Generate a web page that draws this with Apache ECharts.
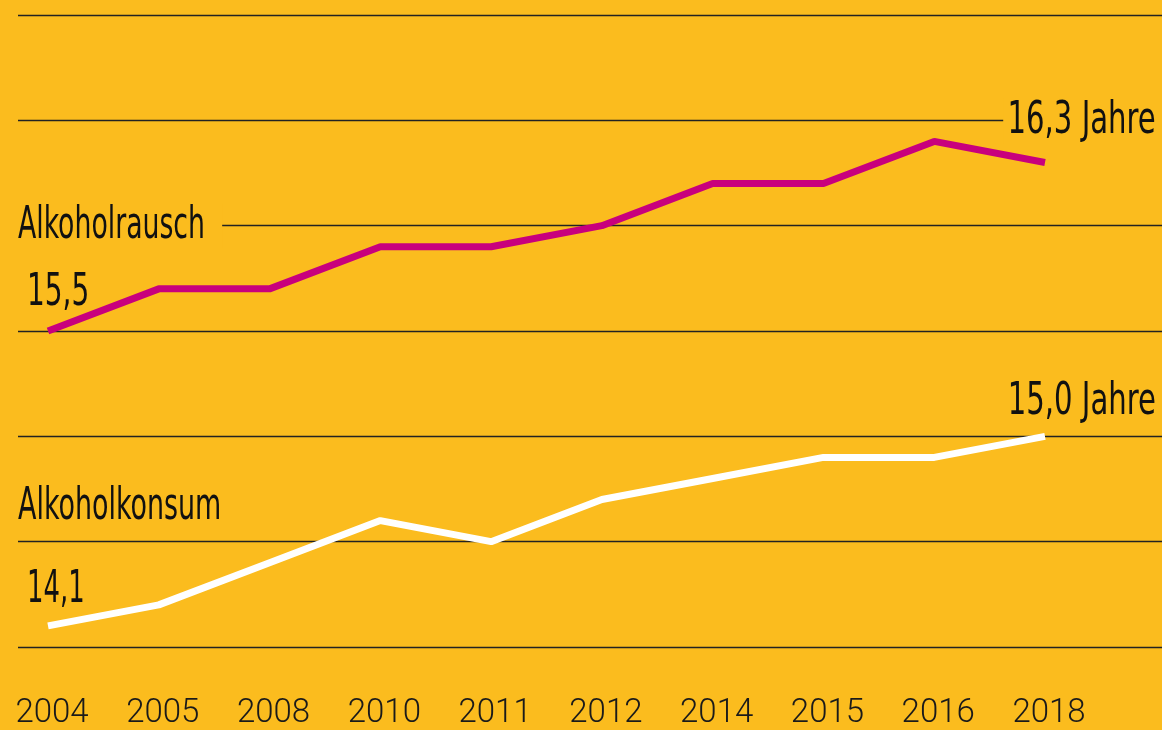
<!DOCTYPE html>
<html>
<head>
<meta charset="utf-8">
<script src="https://cdn.jsdelivr.net/npm/echarts@6/dist/echarts.min.js"></script>
<style>
  html, body { margin: 0; padding: 0; background: #FBBC1E; }
  #chart { width: 1162px; height: 730px; }
</style>
</head>
<body>
<div id="chart"></div>
<script>
const years = ["2004", "2005", "2008", "2010", "2011", "2012", "2014", "2015", "2016", "2018"];
const rausch = [15.5, 15.7, 15.7, 15.9, 15.9, 16.0, 16.2, 16.2, 16.4, 16.3];
const konsum = [14.1, 14.2, 14.4, 14.6, 14.5, 14.7, 14.8, 14.9, 14.9, 15.0];
const yTicks = { min: 14, max: 17, interval: 0.5 };

const bg = "#FBBC1E";
const font = "'DejaVu Sans Condensed', sans-serif";
const fmt = (v) => v.toFixed(1).replace(".", ",");

// text drawn with horizontal squeeze to mimic the condensed headline font
function txt(text, x, y, sx, align, pad) {
  return {
    type: "text",
    x: x,
    y: y,
    scaleX: sx,
    z: 10,
    style: {
      text: text,
      font: "45px " + font,
      fill: "#111",
      align: align || "left",
      verticalAlign: "middle",
      backgroundColor: pad ? bg : null,
      padding: pad || 0,
    },
  };
}

let myChart = echarts.init(document.getElementById("chart"));
let option = {
  backgroundColor: bg,
  animation: false,
  grid: [
    { left: 18, right: 0, top: 15, bottom: 83 },
    { left: 48, right: 117, top: 15, bottom: 83 },
  ],
  xAxis: [
    { gridIndex: 0, type: "value", show: false, min: 0, max: 1 },
    {
      gridIndex: 1,
      type: "category",
      data: years,
      boundaryGap: false,
      axisLine: { show: false },
      axisTick: { show: false },
      axisLabel: {
        margin: 50,
        padding: [0, 0, 0, 8],
        fontFamily: "Roboto, sans-serif",
        fontWeight: 300,
        fontSize: 33,
        color: "#1a1a1a",
      },
    },
  ],
  yAxis: [
    {
      gridIndex: 0,
      type: "value",
      min: yTicks.min,
      max: yTicks.max,
      interval: yTicks.interval,
      axisLine: { show: false },
      axisTick: { show: false },
      axisLabel: { show: false },
      splitLine: { lineStyle: { color: "#222", width: 1.3 } },
    },
    {
      gridIndex: 1,
      type: "value",
      min: yTicks.min,
      max: yTicks.max,
      show: false,
      splitLine: { show: false },
    },
  ],
  series: [
    {
      name: "Alkoholrausch",
      type: "line",
      xAxisIndex: 1,
      yAxisIndex: 1,
      data: rausch,
      symbol: "none",
      lineStyle: { color: "#C8007D", width: 7 },
      z: 5,
    },
    {
      name: "Alkoholkonsum",
      type: "line",
      xAxisIndex: 1,
      yAxisIndex: 1,
      data: konsum,
      symbol: "none",
      lineStyle: { color: "#FFFFFF", width: 7 },
      z: 5,
    },
  ],
  graphic: [
    txt("Alkoholrausch", 18, 226, 0.66, "left", [0, 26, 0, 0]),
    txt("Alkoholkonsum", 18, 507, 0.665, "left"),
    txt(fmt(rausch[0]), 27, 293, 0.69, "left"),
    txt(fmt(konsum[0]), 27, 590, 0.64, "left"),
    txt(fmt(rausch[rausch.length - 1]) + " Jahre", 1163, 121, 0.72, "right", [0, 10, 0, 6]),
    txt(fmt(konsum[konsum.length - 1]) + " Jahre", 1156, 402, 0.72, "right"),
  ],
};
myChart.setOption(option);
</script>
</body>
</html>
